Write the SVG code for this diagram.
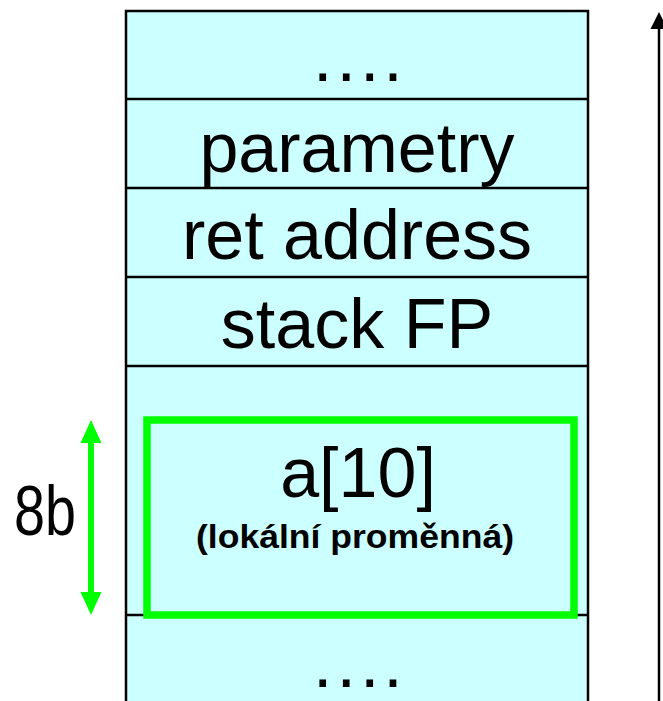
<svg xmlns="http://www.w3.org/2000/svg" width="663" height="701" viewBox="0 0 663 701">
  <style>
    .cell { fill: #CCFFFF; stroke: #000; stroke-width: 2.5; }
    .sep { stroke: #000; stroke-width: 2.5; }
    .big { font-family: "Liberation Sans", Arial, sans-serif; font-size: 70px; fill: #000; text-anchor: middle; }
    .small { font-family: "Liberation Sans", Arial, sans-serif; font-size: 33px; font-weight: bold; fill: #000; text-anchor: middle; }
  </style>
  <rect width="663" height="701" fill="#FFFFFF"/>

  <g id="stack">
    <rect class="cell" x="126" y="11" width="462" height="700"/>
  </g>

  <g id="cell-top">
    <text class="big" x="313" y="81" style="text-anchor:start; letter-spacing:4px">....</text>
  </g>
  <g id="cell-parametry">
    <line class="sep" x1="126" y1="99" x2="588" y2="99"/>
    <text class="big" x="357" y="172">parametry</text>
  </g>
  <g id="cell-ret">
    <line class="sep" x1="126" y1="188" x2="588" y2="188"/>
    <text class="big" x="357" y="259">ret address</text>
  </g>
  <g id="cell-fp">
    <line class="sep" x1="126" y1="277" x2="588" y2="277"/>
    <text class="big" x="357" y="348">stack FP</text>
  </g>
  <g id="cell-local">
    <line class="sep" x1="126" y1="366" x2="588" y2="366"/>
    <line class="sep" x1="126" y1="615" x2="588" y2="615"/>
    <rect x="147" y="420" width="427" height="195" fill="none" stroke="#00FF00" stroke-width="7.5"/>
    <text class="big" x="358" y="497">a[10]</text>
    <text class="small" x="355" y="548" textLength="318" lengthAdjust="spacingAndGlyphs">(lokální proměnná)</text>
  </g>
  <g id="cell-bottom">
    <text class="big" x="313" y="687" style="text-anchor:start; letter-spacing:4px">....</text>
  </g>

  <g id="label-8b">
    <text class="big" x="14" y="535" style="text-anchor:start" textLength="62" lengthAdjust="spacingAndGlyphs">8b</text>
  </g>

  <g id="connectors">
    <line x1="91" y1="440" x2="91" y2="595" stroke="#00FF00" stroke-width="6"/>
    <path d="M91,420 L80.5,443 L101.5,443 Z" fill="#00FF00"/>
    <path d="M91,615 L80.5,592 L101.5,592 Z" fill="#00FF00"/>
    <line x1="659" y1="701" x2="659" y2="26" stroke="#000" stroke-width="2.5"/>
    <path d="M659,12 L650.5,29 L667.5,29 Z" fill="#000"/>
  </g>
</svg>
